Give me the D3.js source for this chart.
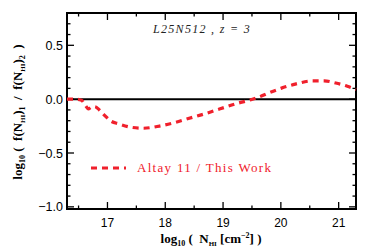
<!DOCTYPE html>
<html>
<head>
<meta charset="utf-8">
<script src="https://cdn.jsdelivr.net/npm/d3@7"></script>
<style>
  body { margin: 0; background: #fff; }
  svg { display: block; }
</style>
</head>
<body>
<svg id="chart" width="374" height="250"></svg>
<script>
// log10 N_HI and log ratio of the two CDDFs
var logN = [16.3, 16.45, 16.55, 16.62, 16.67, 16.72, 16.78, 16.86, 16.95, 17.05, 17.2, 17.4, 17.62, 17.9, 18.15, 18.4, 18.66, 18.95, 19.24, 19.45, 19.6, 19.8, 20.0, 20.25, 20.55, 20.75, 20.95, 21.15, 21.3];
var ratio = [0.0, 0.0, -0.01, -0.06, -0.09, -0.075, -0.07, -0.1, -0.15, -0.2, -0.23, -0.26, -0.27, -0.25, -0.22, -0.18, -0.14, -0.09, -0.04, -0.01, 0.015, 0.06, 0.1, 0.14, 0.17, 0.17, 0.15, 0.12, 0.09];
var xTicks = [17, 18, 19, 20, 21];
var yTicks = [-1.0, -0.5, 0.0, 0.5];

var svg = d3.select("#chart");
var m = {l: 67, r: 356, t: 13, b: 209};

var x = d3.scaleLinear().domain([16.3, 21.3]).range([m.l, m.r]);
var y = d3.scaleLinear().domain([-1.02, 0.8]).range([m.b, m.t]);

var red = "#f0202c";

// minor / major ticks on all four sides, pointing in
var xMinor = d3.range(16.5, 21.3, 0.5);
var yMinor = d3.range(-1.0, 0.81, 0.1).map(function(d){ return Math.round(d * 10) / 10; });

function tickLen(v, majors) {
    return majors.some(function(t){ return Math.abs(t - v) < 1e-6; }) ? 7 : 3.5;
}

var g = svg.append("g").attr("stroke", "#000").attr("stroke-width", 1.3);
xMinor.forEach(function(v) {
    var L = tickLen(v, xTicks);
    g.append("line").attr("x1", x(v)).attr("x2", x(v)).attr("y1", m.b).attr("y2", m.b - L);
    g.append("line").attr("x1", x(v)).attr("x2", x(v)).attr("y1", m.t).attr("y2", m.t + L);
});
yMinor.forEach(function(v) {
    var L = tickLen(v, yTicks);
    g.append("line").attr("y1", y(v)).attr("y2", y(v)).attr("x1", m.l).attr("x2", m.l + L);
    g.append("line").attr("y1", y(v)).attr("y2", y(v)).attr("x1", m.r).attr("x2", m.r - L);
});

// zero line
svg.append("line")
    .attr("x1", m.l).attr("x2", m.r)
    .attr("y1", y(0)).attr("y2", y(0))
    .attr("stroke", "#000").attr("stroke-width", 2);

// frame
svg.append("rect")
    .attr("x", m.l).attr("y", m.t)
    .attr("width", m.r - m.l).attr("height", m.b - m.t)
    .attr("fill", "none").attr("stroke", "#000").attr("stroke-width", 2);

// curve
var line = d3.line()
    .x(function(d, i){ return x(logN[i]); })
    .y(function(d){ return y(d); })
    .curve(d3.curveMonotoneX);

svg.append("path")
    .datum(ratio)
    .attr("d", line)
    .attr("fill", "none")
    .attr("stroke", red)
    .attr("stroke-width", 3.2)
    .attr("stroke-dasharray", "6,5");

// tick labels
svg.selectAll(".xl").data(xTicks).enter().append("text")
    .attr("x", function(d){ return x(d); })
    .attr("y", 227)
    .attr("text-anchor", "middle")
    .attr("font-family", "Liberation Sans, Arial, sans-serif")
    .attr("font-size", 12)
    .text(function(d){ return d; });

svg.selectAll(".yl").data(yTicks).enter().append("text")
    .attr("x", 63)
    .attr("y", function(d){ return y(d) + 4.5; })
    .attr("text-anchor", "end")
    .attr("font-family", "Liberation Sans, Arial, sans-serif")
    .attr("font-size", 12.5)
    .text(function(d){ return d3.format(".1f")(d).replace("-", "\u2212"); });

// title
svg.append("text")
    .attr("x", 153).attr("y", 32.5)
    .attr("font-family", "Liberation Serif, Times New Roman, serif")
    .attr("font-style", "italic")
    .attr("font-size", 12)
    .attr("fill", "#222")
    .attr("letter-spacing", 1.3)
    .attr("xml:space", "preserve")
    .text("L25N512 , z = 3");

// legend
svg.append("line")
    .attr("x1", 91).attr("x2", 126)
    .attr("y1", 168).attr("y2", 168)
    .attr("stroke", red).attr("stroke-width", 3.2)
    .attr("stroke-dasharray", "6,5");
svg.append("text")
    .attr("x", 137).attr("y", 171.5)
    .attr("font-family", "Liberation Serif, Times New Roman, serif")
    .attr("font-size", 13)
    .attr("fill", red)
    .attr("letter-spacing", 1.3)
    .text("Altay 11 / This Work");

// x axis title
var xt = svg.append("text")
    .attr("x", 211).attr("y", 243)
    .attr("text-anchor", "middle")
    .attr("font-family", "Liberation Serif, Times New Roman, serif")
    .attr("font-weight", "bold")
    .attr("font-size", 13)
    .attr("xml:space", "preserve");
xt.append("tspan").text("log");
xt.append("tspan").attr("font-size", 8).attr("dy", 3).text("10");
xt.append("tspan").attr("dy", -3).text(" (  N");
xt.append("tspan").attr("font-size", 7).attr("dy", 3).text("HI");
xt.append("tspan").attr("dy", -3).text(" [cm");
xt.append("tspan").attr("font-size", 8).attr("dy", -5).text("\u22122");
xt.append("tspan").attr("dy", 5).text("] )");

// y axis title
var yt = svg.append("text")
    .attr("transform", "translate(22,112) rotate(-90)")
    .attr("text-anchor", "middle")
    .attr("font-family", "Liberation Serif, Times New Roman, serif")
    .attr("font-weight", "bold")
    .attr("font-size", 13)
    .attr("xml:space", "preserve");
yt.append("tspan").text("log");
yt.append("tspan").attr("font-size", 8).attr("dy", 3).text("10");
yt.append("tspan").attr("dy", -3).text(" (  f(N");
yt.append("tspan").attr("font-size", 7).attr("dy", 3).text("HI");
yt.append("tspan").attr("dy", -3).text(")");
yt.append("tspan").attr("font-size", 8).attr("dy", 3).text("1");
yt.append("tspan").attr("dy", -3).text("  /  f(N");
yt.append("tspan").attr("font-size", 7).attr("dy", 3).text("HI");
yt.append("tspan").attr("dy", -3).text(")");
yt.append("tspan").attr("font-size", 8).attr("dy", 3).text("2");
yt.append("tspan").attr("dy", -3).text("  )");
</script>
</body>
</html>
